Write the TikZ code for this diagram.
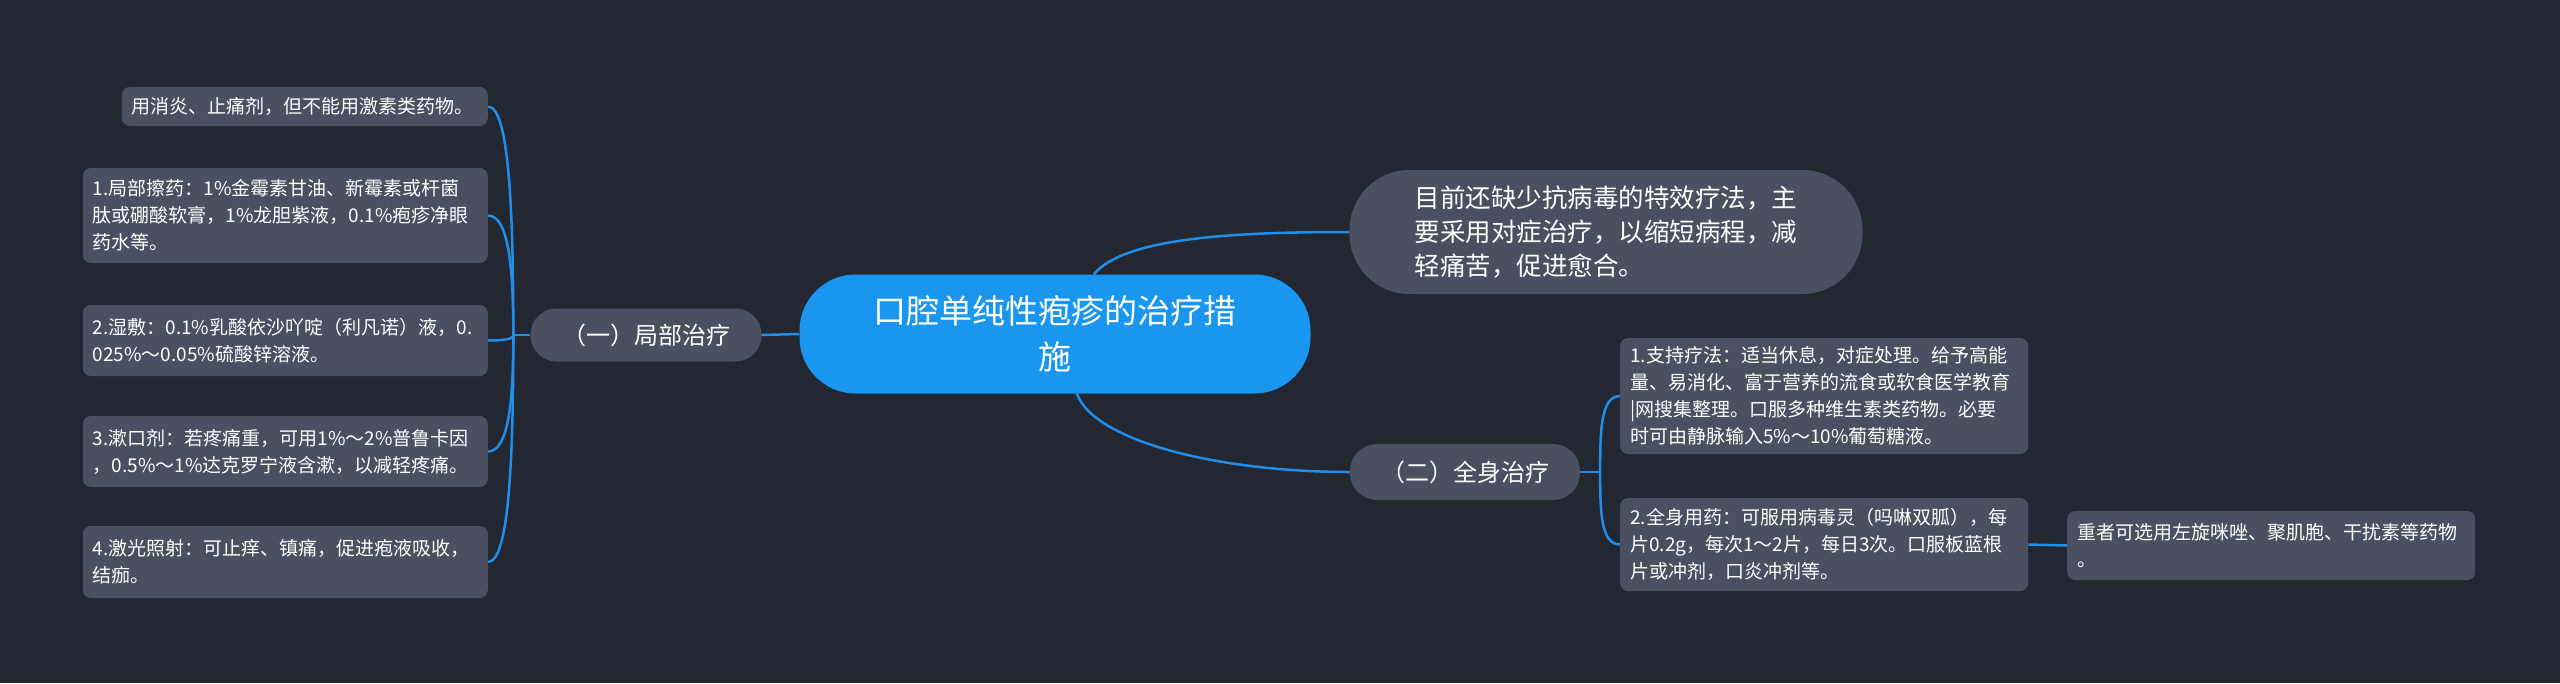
\documentclass[tikz,border=0pt]{standalone}
\usepackage{fontspec}
\setmainfont{Noto Sans CJK SC}
\usepackage{tikz}
\usetikzlibrary{calc}

\definecolor{bgcol}{RGB}{35,39,50}
\definecolor{boxcol}{RGB}{74,80,96}
\definecolor{rootcol}{RGB}{25,150,240}
\definecolor{linkcol}{RGB}{30,142,232}

\tikzset{
  leaf/.style={fill=boxcol, text=white, rounded corners=8pt, inner xsep=10pt, inner ysep=0pt,
    align=left, font=\fontsize{19}{27}\selectfont},
  pill/.style={fill=boxcol, text=white, inner sep=0pt, align=left},
  link/.style={draw=linkcol, line width=2.5pt},
}

\begin{document}
\begin{tikzpicture}[x=1pt,y=-1pt]
      \fill[bgcol] (0,0) rectangle (2560,683);
      \useasboundingbox (0,0) rectangle (2560,683);

      \node[fill=rootcol, text=white, rounded corners=56pt, minimum width=511pt, minimum height=119pt,
        align=center, font=\fontsize{33}{46}\selectfont] (R) at (1055,334) {口腔单纯性疱疹的治疗措\\施};

      \node[pill, rounded corners=60pt, minimum width=513pt, minimum height=124pt,
        font=\fontsize{25.5}{34}\selectfont] (T) at (1606,232)
        {目前还缺少抗病毒的特效疗法，主\\要采用对症治疗，以缩短病程，减\\轻痛苦，促进愈合。};

      \node[pill, rounded corners=26pt, minimum width=231pt, minimum height=53pt,
        font=\fontsize{24}{30}\selectfont] (A) at (646,335) {（一）局部治疗};
      \node[pill, rounded corners=27pt, minimum width=230pt, minimum height=56pt,
        font=\fontsize{24}{30}\selectfont] (B) at (1465,472) {（二）全身治疗};

      % left side
      \node[leaf, text width=346pt, minimum height=39pt, anchor=east] (A0) at (488,106.5)
        {用消炎、止痛剂，但不能用激素类药物。};
      \node[leaf, text width=385pt, minimum height=95pt, anchor=east] (A1) at (488,215.5)
        {1.局部擦药：1\%金霉素甘油、新霉素或杆菌\\肽或硼酸软膏，1\%龙胆紫液，0.1\%疱疹净眼\\药水等。};
      \node[leaf, text width=385pt, minimum height=71pt, anchor=east] (A2) at (488,340.5)
        {2.湿敷：0.1\%乳酸依沙吖啶（利凡诺）液，0.\\025\%～0.05\%硫酸锌溶液。};
      \node[leaf, text width=385pt, minimum height=71pt, anchor=east] (A3) at (488,451.5)
        {3.漱口剂：若疼痛重，可用1\%～2\%普鲁卡因\\，0.5\%～1\%达克罗宁液含漱，以减轻疼痛。};
      \node[leaf, text width=385pt, minimum height=72pt, anchor=east] (A4) at (488,562)
        {4.激光照射：可止痒、镇痛，促进疱液吸收，\\结痂。};

      % right side
      \node[leaf, text width=388pt, minimum height=116pt, anchor=west] (B1) at (1620,396)
        {1.支持疗法：适当休息，对症处理。给予高能\\量、易消化、富于营养的流食或软食医学教育\\\textbar 网搜集整理。口服多种维生素类药物。必要\\时可由静脉输入5\%～10\%葡萄糖液。};
      \node[leaf, text width=388pt, minimum height=93pt, anchor=west] (B2) at (1620,544.5)
        {2.全身用药：可服用病毒灵（吗啉双胍），每\\片0.2g，每次1～2片，每日3次。口服板蓝根\\片或冲剂，口炎冲剂等。};
      \node[leaf, text width=388pt, minimum height=69pt, anchor=west] (B3) at (2067,545.5)
        {重者可选用左旋咪唑、聚肌胞、干扰素等药物\\。};

      \coordinate (JA) at ($(A.west)+(-17,0)$);
      \coordinate (JB) at ($(B.east)+(20,0)$);

      \draw[link] (R.west) -- (A.east);
      \draw[link] (R.57) .. controls +(30,-36) and +(-120,0) .. (T.west);
      \draw[link] (R.-70) .. controls +(18,48) and +(-130,0) .. (B.west);

      \draw[link] (A.west) -- (JA);
      \foreach \n in {A0,A1,A2,A3,A4}
        \draw[link] (JA) .. controls ($(JA)!0.5!(JA |- \n.east)$) and ($(\n.east)+(22,0)$) .. (\n.east);
      \draw[link] (B.east) -- (JB);
      \foreach \n in {B1,B2}
        \draw[link] (JB) .. controls ($(JB)!0.5!(JB |- \n.west)$) and ($(\n.west)+(-20,0)$) .. (\n.west);
      \draw[link] (B2.east) -- (B3.west);
    \end{tikzpicture}
\end{document}
